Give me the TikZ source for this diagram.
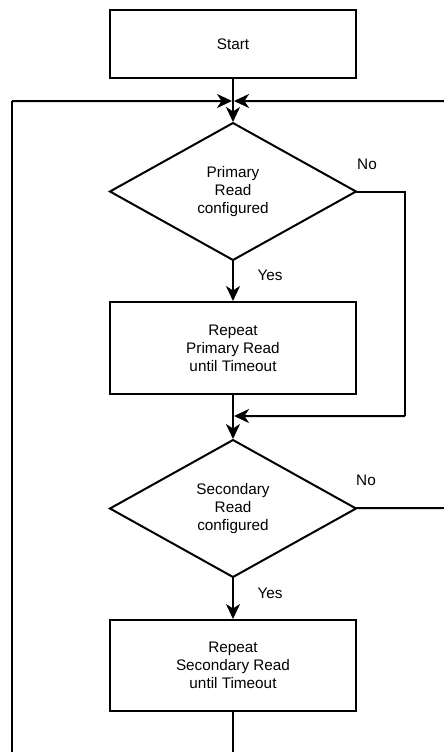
\documentclass[tikz,border=0pt]{standalone}
\usepackage{fontspec}
\setmainfont{Liberation Sans}
\usepackage{tikz}
\usetikzlibrary{
  arrows.meta,
  shapes.geometric,
  chains,
  positioning,
  scopes
}
\newcommand{\chartfont}{\fontsize{15.3bp}{18bp}\selectfont}

\begin{document}
\begin{tikzpicture}[x=1bp,y=-1bp,
      process/.style={
         rectangle,
         draw=black,
         minimum width=246bp,
         minimum height=92bp,
         outer sep=0pt,
         align=center,
         font=\chartfont
      },
      decision/.style={
         diamond,
         draw=black,
         minimum width=246bp,
         minimum height=137bp,
         inner sep=0pt,
         outer sep=0pt,
         align=center,
         font=\chartfont
      },
      answer/.style={font=\chartfont},
      point/.style={coordinate},
      >={Stealth[length=15bp,width=14bp,inset=4.5bp]},line width=2bp,
      tip/.style={->,shorten >=1bp},
      hv path/.style={to path={-| (\tikztotarget)}},
      vh path/.style={to path={|- (\tikztotarget)}}
    ]
    \useasboundingbox (0,0) rectangle (444,752);
    \node (start) [process, minimum height=68bp] at (233,44) {Start};
    \coordinate [below=23bp of start] (j1);
    \node (prim) [decision, below=22bp of j1] {Primary\\Read\\configured};
    \node (rprim) [process, below=42bp of prim] {Repeat\\Primary Read\\until Timeout};
    \coordinate [below=22bp of rprim] (j2);
    \node (sec) [decision, below=24bp of j2] {Secondary\\Read\\configured};
    \node (rsec) [process, minimum height=91bp, below=43bp of sec] {Repeat\\Secondary Read\\until Timeout};
    % loose ends and corners
    \coordinate (lb) at (12,752);
    \coordinate (lt) at (12,101);
    \coordinate (rt) at (444,101);
    \coordinate (c1) at (405,416);
    \coordinate (se) at (444,508);
    \coordinate (bout) at (233,752);
    \node (yes1) [answer] at (270,275) {Yes};
    \node (no1) [answer] at (367,164) {No};
    \node (yes2) [answer] at (270,593) {Yes};
    \node (no2) [answer] at (366,480) {No};
  { [start chain]
       \chainin (start);
       \chainin (prim)    [join=by tip];
       \chainin (rprim)   [join=by tip];
       \chainin (sec)     [join=by tip];
       \chainin (rsec)    [join=by tip];
       \chainin (bout)    [join];
  }
  { [start chain]
       \chainin (lb);
       \chainin (lt)      [join];
       \chainin (j1)      [join=by tip];
  }
  { [start chain]
       \chainin (rt);
       \chainin (j1)      [join=by tip];
  }
  { [start chain]
       \chainin (prim);
       \chainin (c1)      [join=by hv path];
       \chainin (j2)      [join=by tip];
  }
  { [start chain]
       \chainin (sec);
       \chainin (se)      [join];
  }
\end{tikzpicture}
\end{document}
